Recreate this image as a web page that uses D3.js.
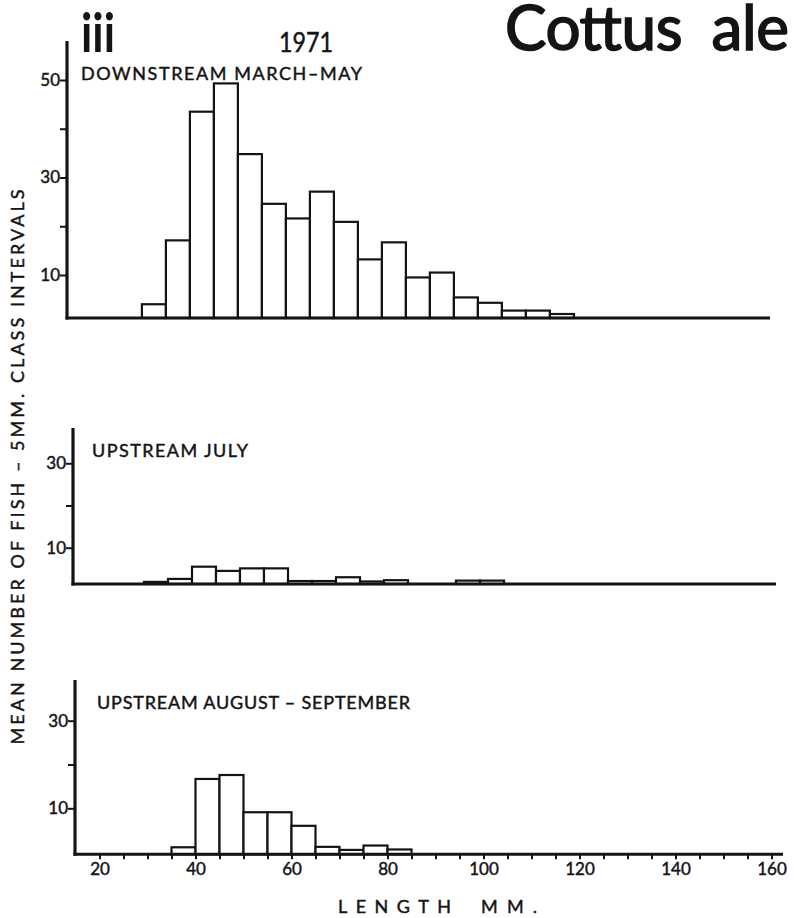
<!DOCTYPE html>
<html>
<head>
<meta charset="utf-8">
<script src="https://cdn.jsdelivr.net/npm/d3@7"></script>
<style>
  html, body { margin: 0; padding: 0; background: #fff; overflow: hidden; }
  svg { display: block; }
  text { font-family: Lato, "DejaVu Sans", sans-serif; fill: #141414; }
  .thick { stroke: #141414; stroke-width: 0.45px; }
</style>
</head>
<body>
<svg id="chart" width="796" height="918"></svg>
<script>
// ---- data ----
// lower edge of each 5 mm length class
const binStartsDown = [30,35,40,45,50,55,60,65,70,75,80,85,90,95,100,105,110,115];
const downstreamMarMay = [4.0,17.1,43.5,49.3,34.8,24.6,21.6,27.1,20.9,13.2,16.7,9.5,10.5,5.4,4.3,2.7,2.7,2.0];

const binStartsJuly = [30,35,40,45,50,55,60,65,70,75,80,95,100];
const upstreamJuly = [1.9,2.6,5.5,4.5,5.1,5.1,2.1,2.1,3.0,2.0,2.3,2.2,2.2];

const binStartsAugSep = [35,40,45,50,55,60,65,70,75,80];
const upstreamAugSep = [1.1,16.7,17.6,9.1,9.1,6.0,1.2,0.5,1.5,0.6];

const binWidth = 5;
const xTickValues = d3.range(20, 161, 5);
const xTickLabels = [20,40,60,80,100,120,140,160];

const panelTitles = ["DOWNSTREAM MARCH–MAY", "UPSTREAM JULY", "UPSTREAM AUGUST – SEPTEMBER"];
const yTicksTop = [10,20,30,40,50];
const yLabelsTop = [10,30,50];
const yTicksLow = [10,20,30];
const yLabelsLow = [10,30];

// ---- layout ----
const svg = d3.select("#chart");
const ink = "#141414";

const panels = [
  { starts: binStartsDown, values: downstreamMarMay, title: panelTitles[0],
    x20: 93.9, axisX: 67, lineEnd: 770, base: 318, axisTop: 41,
    yDom: [10,50], yRng: [275,80], ticks: yTicksTop, labels: yLabelsTop,
    titleX: 81, titleY: 80, titleLen: 281, xAxis: false },
  { starts: binStartsJuly, values: upstreamJuly, title: panelTitles[1],
    x20: 96, axisX: 73, lineEnd: 776, base: 584, axisTop: 428,
    yDom: [10,30], yRng: [547.7,463.3], ticks: yTicksLow, labels: yLabelsLow,
    titleX: 92, titleY: 457, titleLen: 156, xAxis: false },
  { starts: binStartsAugSep, values: upstreamAugSep, title: panelTitles[2],
    x20: 99.5, axisX: 75, lineEnd: 783, base: 854.3, axisTop: 680,
    yDom: [10,30], yRng: [808.3,720.7], ticks: yTicksLow, labels: yLabelsLow,
    titleX: 97, titleY: 709, titleLen: 313, xAxis: true }
];
const pxPerMm = 4.8;

panels.forEach(p => {
  const x = d3.scaleLinear().domain([20, 160]).range([p.x20, p.x20 + 140 * pxPerMm]);
  const y = d3.scaleLinear().domain(p.yDom).range(p.yRng);
  const g = svg.append("g");

  // bars
  g.selectAll("rect.bar")
    .data(p.starts.map((s, i) => ({ s, v: p.values[i] })))
    .join("rect")
    .attr("class", "bar")
    .attr("x", d => x(d.s))
    .attr("width", d => x(d.s + binWidth) - x(d.s))
    .attr("y", d => y(d.v))
    .attr("height", d => p.base - y(d.v))
    .attr("fill", "#fff")
    .attr("stroke", ink)
    .attr("stroke-width", 2.2);

  // y axis ticks + labels
  const yAxis = d3.axisLeft(y)
    .tickValues(p.ticks)
    .tickSize(7)
    .tickSizeOuter(0)
    .tickFormat(d => p.labels.includes(d) ? d : "");
  const ya = g.append("g").attr("transform", `translate(${p.axisX},0)`).call(yAxis);
  ya.select(".domain").remove();
  ya.selectAll(".tick line").attr("stroke", ink).attr("stroke-width", 2);
  ya.selectAll(".tick text")
    .attr("x", -7)
    .attr("class", "thick")
    .style("font-size", "17px")
    .style("font-family", "Lato, sans-serif")
    .attr("fill", ink);

  // x axis (bottom panel only)
  if (p.xAxis) {
    const xAxis = d3.axisBottom(x)
      .tickValues(xTickValues)
      .tickSize(5)
      .tickSizeOuter(0)
      .tickFormat(d => xTickLabels.includes(d) ? d : "");
    const xa = g.append("g").attr("transform", `translate(0,${p.base})`).call(xAxis);
    xa.select(".domain").remove();
    xa.selectAll(".tick line").attr("stroke", ink).attr("stroke-width", 2);
    xa.selectAll(".tick text")
      .attr("y", 9)
      .attr("class", "thick")
      .style("font-size", "17px")
      .style("font-family", "Lato, sans-serif")
      .attr("fill", ink);
  }

  // axis lines
  g.append("line")
    .attr("x1", p.axisX).attr("x2", p.axisX)
    .attr("y1", p.axisTop).attr("y2", p.base + 1.5)
    .attr("stroke", ink).attr("stroke-width", 3.2);
  g.append("line")
    .attr("x1", p.axisX - 1.5).attr("x2", p.lineEnd)
    .attr("y1", p.base).attr("y2", p.base)
    .attr("stroke", ink).attr("stroke-width", 3);

  // panel title
  g.append("text")
    .attr("x", p.titleX).attr("y", p.titleY)
    .attr("class", "thick")
    .attr("textLength", p.titleLen)
    .attr("lengthAdjust", "spacing")
    .style("font-size", "18px")
    .text(p.title);
});

// headings
svg.append("text")
  .attr("x", 81).attr("y", 52)
  .attr("textLength", 34).attr("lengthAdjust", "spacingAndGlyphs")
  .style("font-size", "54px").style("font-weight", "bold")
  .text("iii");

svg.append("text")
  .attr("x", 279).attr("y", 52)
  .attr("class", "thick")
  .attr("textLength", 54).attr("lengthAdjust", "spacingAndGlyphs")
  .style("font-size", "26px")
  .text("1971");

svg.append("text")
  .attr("x", 505).attr("y", 50)
  .attr("textLength", 284).attr("lengthAdjust", "spacing")
  .style("font-size", "62px")
  .style("stroke", ink)
  .style("stroke-width", "1.6px")
  .style("word-spacing", "14px")
  .text("Cottus ale");

// axis titles
svg.append("text")
  .attr("transform", "translate(24,467) rotate(-90)")
  .attr("text-anchor", "middle")
  .attr("class", "thick")
  .attr("textLength", 555).attr("lengthAdjust", "spacing")
  .style("font-size", "18px")
  .text("MEAN NUMBER OF FISH – 5MM. CLASS INTERVALS");

svg.append("text")
  .attr("x", 338).attr("y", 913)
  .attr("class", "thick")
  .attr("textLength", 113).attr("lengthAdjust", "spacing")
  .style("font-size", "18px")
  .text("LENGTH");
svg.append("text")
  .attr("x", 481).attr("y", 913)
  .attr("class", "thick")
  .attr("textLength", 56).attr("lengthAdjust", "spacing")
  .style("font-size", "18px")
  .text("MM.");
</script>
</body>
</html>
